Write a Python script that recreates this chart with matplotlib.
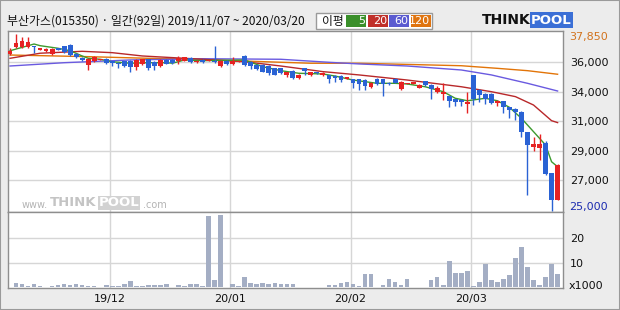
import numpy as np
import matplotlib.pyplot as plt
from matplotlib.patches import Rectangle
from matplotlib.transforms import blended_transform_factory

plt.rcParams['font.family'] = ['DejaVu Sans']
KR = ['Noto Sans CJK KR', 'DejaVu Sans']

title = '부산가스(015350) · 일간(92일) 2019/11/07 ~ 2020/03/20'

# daily candles, 2019/11/07 ~ 2020/03/20
opens = [36400, 36900, 36900, 36900, 36950, 36700, 36600, 36400, 36800, 36950,
         37050, 36400, 36100, 35600, 35850, 36000, 36050, 35850, 35750, 35850,
         35900, 35450, 35650, 36000, 35800, 35500, 35950, 35950, 35900, 35900,
         36100, 35800, 35950, 35900, 35900, 35500, 35900, 35650, 35850, 36250,
         35800, 35600, 35600, 35550, 35350, 35350, 34900, 35150, 34650, 35350,
         34850, 35050, 34850, 34850, 34800, 34800, 34600, 34550, 34550, 34500,
         34000, 34600, 34550, 34300, 34600, 33850, 34250, 34250, 33950, 34400,
         34150, 33600, 33500, 33300, 33100, 33050, 32750, 34850, 33800, 33500,
         33500, 32800, 32950, 32500, 32400, 32200, 30700, 29650, 29550, 29950,
         27700, 25800]
highs = [36850, 37850, 37650, 37650, 37000, 36850, 36800, 36800, 36850, 37000,
         37100, 36450, 36150, 36100, 36250, 36050, 36100, 35900, 35800, 35900,
         35950, 36000, 36050, 36050, 35850, 36000, 36000, 36000, 36250, 36200,
         36150, 35950, 36000, 35950, 36950, 35950, 35950, 36200, 35900, 36300,
         35850, 35650, 35650, 35600, 35400, 35400, 35100, 35200, 34950, 35400,
         35100, 35100, 35050, 34900, 34850, 34850, 34750, 34600, 34600, 34550,
         34350, 34650, 34600, 34350, 34650, 34400, 34300, 34350, 34200, 34450,
         34200, 34050, 34250, 33350, 33150, 33100, 33650, 34900, 33850, 33550,
         33550, 33050, 33000, 32550, 32450, 32250, 30750, 30350, 30600, 30050,
         27750, 28350]
lows = [36300, 36850, 36850, 36850, 36450, 36650, 36550, 36350, 36650, 36500,
        36250, 36100, 35850, 35200, 35800, 35950, 35700, 35500, 35350, 35450,
        35050, 35250, 35600, 35200, 35250, 35450, 35650, 35700, 35650, 35850,
        35750, 35750, 35750, 35850, 35750, 35450, 35600, 35600, 35800, 35550,
        35300, 35250, 35050, 34900, 34850, 34950, 34750, 34600, 34600, 34850,
        34800, 34950, 34800, 34250, 34350, 34350, 34550, 33950, 33800, 33750,
        33950, 34150, 33350, 34150, 34250, 33800, 34200, 34200, 33900, 34100,
        33150, 33550, 33050, 32500, 32600, 32600, 32100, 32700, 32900, 32750,
        32750, 32600, 32100, 31700, 31600, 30350, 26150, 29350, 28650, 27600,
        25000, 25750]
closes = [36600, 37200, 37350, 37300, 36900, 36800, 36750, 36750, 36700, 36550,
          36300, 36200, 35950, 36050, 36200, 36000, 35750, 35750, 35650, 35500,
          35450, 35950, 36000, 35400, 35500, 35950, 35700, 35750, 36100, 36150,
          35800, 35900, 35800, 35900, 35800, 35900, 35700, 35900, 35850, 35600,
          35500, 35300, 35100, 35000, 34900, 35000, 35050, 34650, 34900, 35150,
          35050, 35000, 35000, 34600, 34650, 34500, 34700, 34250, 34200, 34050,
          34300, 34200, 34200, 34200, 34300, 34350, 34250, 34300, 34150, 34150,
          33850, 33900, 33650, 33000, 32900, 32900, 32900, 33100, 33400, 33150,
          32800, 33000, 32500, 32350, 32200, 30750, 29800, 29850, 29850, 27650,
          25800, 28300]
# volume, x1000 shares
volumes = [0.3, 1.7, 1.5, 0.4, 1.3, 0.7, 0.3, 0.7, 1.0, 1.3,
           0.8, 1.3, 1.0, 0.7, 0.5, 0.3, 1.0, 0.7, 0.7, 1.5,
           2.7, 0.7, 0.7, 1.0, 1.0, 1.0, 1.5, 0.3, 1.0, 0.7,
           1.5, 1.5, 0.7, 28.7, 3.1, 29.0, 0.3, 1.5, 0.7, 4.3,
           1.9, 1.5, 1.9, 1.5, 1.9, 1.5, 1.5, 1.5, 0.3, 0.3,
           0.3, 0.3, 0.3, 1.1, 1.1, 1.9, 2.3, 1.5, 0.7, 5.3,
           5.3, 0.3, 1.1, 3.5, 2.3, 1.1, 3.5, 0.3, 0.3, 0.3,
           3.1, 4.2, 1.1, 10.8, 5.9, 5.9, 6.6, 0.7, 2.3, 9.2,
           3.1, 2.3, 3.5, 5.1, 12.0, 16.1, 8.0, 3.1, 1.1, 4.3,
           9.2, 5.5]

# moving averages (candle index, price)
ma5_idx = [0, 4, 5, 8, 10, 12, 13, 15, 17, 20, 23, 26, 27, 29, 32, 39, 42, 45, 48,
           52, 54, 57, 61, 64, 66, 69, 72, 74, 76, 79, 81, 83, 85, 87, 89, 90, 91]
ma5_val = [36630, 37120, 37000, 36810, 36630, 36250, 36080, 36010, 35830, 35720,
           35760, 35760, 35720, 35960, 35910, 35960, 35470, 35180, 34990, 34940,
           34790, 34500, 34260, 34260, 34210, 34010, 33650, 33170, 32990, 33170,
           32990, 32510, 31710, 30740, 29770, 28550, 28190]
ma20_idx = [0, 5, 12, 17, 22, 32, 39, 45, 52, 58, 66, 75, 80, 84, 87, 90, 91]
ma20_val = [36080, 36450, 36590, 36490, 36250, 36010, 35830, 35520, 35110, 34870,
            34500, 34010, 33650, 33290, 32680, 31540, 31400]
ma60_idx = [0, 9, 20, 32, 45, 53, 58, 66, 75, 80, 86, 91]
ma60_val = [35520, 35760, 35960, 36050, 36010, 35790, 35670, 35520, 35230, 34870,
            34260, 33700]
ma120_idx = [0, 13, 23, 32, 39, 50, 58, 75, 81, 86, 91]
ma120_val = [36320, 36200, 36080, 36010, 35880, 35720, 35720, 35540, 35350, 35180,
             34920]

ma_names = ['5', '20', '60', '120']
month_idx = [17, 37, 57, 77]
month_labels = ['19/12', '20/01', '20/02', '20/03']
price_ticks = [35810, 33630, 31520, 29330, 27220]
price_labels = ['36,000', '34,000', '31,000', '29,000', '27,000']
vol_ticks = [10, 20]

UP, DOWN = '#e62222', '#2a62d4'
ma_line_colors = ['#3c9a2e', '#b8282a', '#6a5ae0', '#e27408']
ma_box_colors = ['#3a8f2a', '#c0302a', '#5b5bd0', '#df7410']

W, H = 620, 310
def fx(p):
    return p / W
def fy(p):
    return 1 - p / H

fig = plt.figure(figsize=(6.2, 3.1), dpi=100, facecolor='#ececec')
ax = fig.add_axes([fx(8), fy(212), fx(563) - fx(8), fy(31) - fy(212)], facecolor='white')
axv = fig.add_axes([fx(8), fy(288), fx(563) - fx(8), fy(212) - fy(288)], facecolor='white', sharex=ax)

x = np.arange(len(closes))
o = np.array(opens, float)
c = np.array(closes, float)
hi = np.array(highs, float)
lo = np.array(lows, float)
colors = np.where(c >= o, UP, DOWN)

grid_x = np.array(month_idx) - 0.4
for a in (ax, axv):
    a.set_xticks(grid_x)
    a.grid(True, color='#d6d6d6', lw=1)
    a.set_axisbelow(True)
    a.tick_params(length=0)
    for s in a.spines.values():
        s.set_color('#8e8e8e')
        s.set_linewidth(1)

# moving averages
for idx, val, col in zip([ma120_idx, ma60_idx, ma20_idx, ma5_idx],
                         [ma120_val, ma60_val, ma20_val, ma5_val],
                         ma_line_colors[::-1]):
    ax.plot(idx, val, color=col, lw=1, zorder=2)

# candles
ax.vlines(x, lo, hi, colors=colors, lw=1, zorder=3)
body = np.maximum(np.abs(c - o), 90)
bottom = np.minimum(o, c) - (body - np.abs(c - o)) / 2
ax.bar(x, body, bottom=bottom, width=0.8, color=colors, lw=0, zorder=4)

ax.set_xlim(-0.33, 91.9)
ax.set_ylim(24892, 38068)
ax.yaxis.tick_right()
ax.set_yticks(price_ticks)
ax.set_yticklabels(price_labels, fontsize=8, color='#111111')
ax.tick_params(axis='y', pad=5)
ax.tick_params(axis='x', labelbottom=False)

tr = blended_transform_factory(ax.transAxes, ax.transData)
ax.annotate(f'{max(highs):,}', xy=(1, max(highs)), xycoords=tr, xytext=(6, -3),
            textcoords='offset pixels', va='center', ha='left', fontsize=8,
            color='#d2731e', annotation_clip=False)
ax.annotate(f'{min(lows):,}', xy=(1, min(lows)), xycoords=tr, xytext=(6, 4),
            textcoords='offset pixels', va='center', ha='left', fontsize=8,
            color='#1c2cb0', annotation_clip=False)

# volume
axv.bar(x, volumes, width=0.75, color='#a4aec4', lw=0, zorder=3)
axv.set_ylim(-0.3, 30.4)
axv.yaxis.tick_right()
axv.set_yticks(vol_ticks)
axv.set_yticklabels([str(v) for v in vol_ticks], fontsize=8, color='#111111')
axv.tick_params(axis='y', pad=5)
axv.set_xticklabels(month_labels, fontsize=8, color='#111111')
axv.tick_params(axis='x', pad=4)
fig.text(fx(569), fy(286), 'x1000', fontsize=8, color='#111111', va='center')

# title and legend
fig.text(fx(7), fy(21), title, fontsize=8.6, family=KR, va='center', color='#111111')
fig.patches.append(Rectangle((fx(316), fy(29)), fx(116), 16 / H, transform=fig.transFigure,
                             facecolor='white', edgecolor='#9a9a9a', lw=1))
fig.text(fx(322), fy(21), '이평', fontsize=8.5, family=KR, va='center', color='#111111')
box_left = [346, 368, 389, 411]
for bl, name, col in zip(box_left, ma_names, ma_box_colors):
    fig.patches.append(Rectangle((fx(bl), fy(27)), fx(20), 12 / H, transform=fig.transFigure,
                                 facecolor=col, edgecolor='none'))
    fig.text(fx(bl + 19), fy(21), name, fontsize=8, color='white', va='center', ha='right')

# logo
fig.text(fx(482), fy(20), 'THINK', fontsize=10, fontweight='bold', color='#111111', va='center')
fig.text(fx(531), fy(20), 'POOL', fontsize=9.5, fontweight='bold', color='white', va='center',
         bbox=dict(boxstyle='square,pad=0.08', facecolor='#3b6fd6', edgecolor='none'))

# watermark
fig.text(fx(22), fy(205), 'www.', fontsize=7, color='#b4b4b4', va='center')
fig.text(fx(50), fy(203), 'THINK', fontsize=9.5, fontweight='bold', color='#c4c4c4', va='center')
fig.text(fx(99), fy(203), 'POOL', fontsize=9.5, fontweight='bold', color='white', va='center',
         bbox=dict(boxstyle='square,pad=0.05', facecolor='#d2d2d2', edgecolor='none'))
fig.text(fx(143), fy(205), '.com', fontsize=7, color='#b4b4b4', va='center')

fig.patches.append(Rectangle((0, 0), 1, 1, transform=fig.transFigure, fill=False,
                             edgecolor='#9a9a9a', lw=1.5))

fig.savefig('out.png', dpi=100, facecolor=fig.get_facecolor())
